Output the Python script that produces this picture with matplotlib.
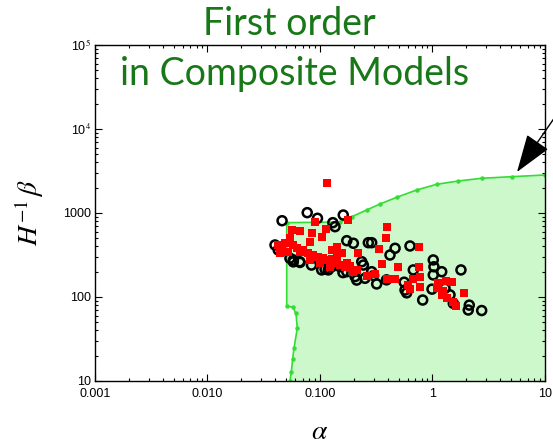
import numpy as np
import matplotlib
matplotlib.use('Agg')
from matplotlib import pyplot as plt
from matplotlib.ticker import FixedLocator, FixedFormatter, LogLocator, NullFormatter

plt.rcParams['mathtext.fontset'] = 'stix'

# allowed region (first order transition), boundary points (alpha, beta/H)
region_alpha = [0.0541, 0.0556, 0.0572, 0.0587, 0.0628, 0.0612, 0.0572, 0.0506,
                0.0506, 0.1506, 0.1915, 0.26, 0.3415, 0.481, 0.724, 1.089,
                1.696, 2.737, 5.06, 10.0]
region_beta = [10, 12.9, 18.5, 24.5, 42.4, 63.8, 75.5, 78,
               767, 780, 903, 1086, 1280, 1538, 1879, 2196,
               2404, 2589, 2705, 2834]

# model points, black circles
circ_alpha = [0.046, 0.077, 0.095, 0.161, 0.130, 0.136, 0.173, 0.198, 0.269, 0.288,
              0.465, 0.631, 0.419, 0.235, 0.243, 0.288, 0.319, 0.212, 0.570, 0.590,
              0.818, 0.675, 1.016, 1.03, 1.208, 1.016, 1.791, 1.292, 1.431, 1.531,
              2.124, 2.08, 2.737, 0.0398, 0.0425, 0.054, 0.058, 0.066, 0.084, 0.111,
              0.1185, 0.127, 0.151, 0.173, 0.205, 0.251, 0.1, 0.99, 0.0579, 0.0664,
              0.1035, 0.16, 0.3, 0.39, 0.56]
circ_beta = [809, 1009, 865, 946, 767, 687, 468, 436, 443, 443,
             380, 405, 316, 263, 240, 200, 143, 159, 121, 112,
             92, 210, 276, 229, 200, 183, 210, 127, 106, 84,
             80, 70, 69, 416, 363, 289, 276, 263, 240, 214,
             210, 229, 229, 200, 175, 167, 276, 124, 262, 258,
             210, 195, 180, 160, 150]

# model points, red squares
sq_alpha = [0.1146, 0.0903, 0.179, 0.056, 0.0664, 0.0843, 0.113, 0.1035, 0.0815, 0.392,
            0.386, 0.337, 0.764, 0.216, 0.156, 0.141, 0.127, 0.353, 0.497, 0.764,
            0.774, 0.675, 0.392, 0.465, 0.308, 0.26, 0.61, 0.774, 0.631, 1.127,
            1.318, 1.482, 1.104, 1.233, 1.208, 1.337, 1.905, 1.531, 1.618, 0.0425,
            0.0457, 0.0489, 0.0541, 0.0579, 0.0621, 0.0664, 0.0711, 0.0787, 0.0871, 0.0966,
            0.107, 0.1146, 0.127, 0.136, 0.151, 0.167, 0.185, 0.198, 0.212, 0.0441,
            0.0522, 0.0815, 0.1, 0.1227, 0.141, 0.175, 0.185, 0.0541, 0.151]
sq_beta = [2296, 775, 826, 628, 616, 582, 640, 514, 455, 687,
           500, 370, 397, 337, 337, 397, 363, 245, 226, 226,
           175, 163, 165, 163, 188, 178, 139, 130, 124, 148,
           156, 150, 127, 119, 106, 96.5, 111, 88, 78, 416,
           380, 436, 455, 416, 380, 346, 363, 331, 316, 302,
           289, 276, 281, 252, 240, 229, 220, 200, 210, 331,
           346, 276, 252, 229, 289, 256, 234, 500, 331]

fig = plt.figure(figsize=(5.53, 4.44), dpi=100)
ax = fig.add_axes([0.1718, 0.1419, 0.8137, 0.7568])
ax.set_xscale('log')
ax.set_yscale('log')

ax.fill(region_alpha + [10.0], region_beta + [10], color='#ccf8cc', lw=0, zorder=1)
ax.plot(region_alpha, region_beta, color='#33dd33', lw=1.2, marker='o', ms=2.2, zorder=2)

ax.scatter(circ_alpha, circ_beta, s=42, facecolors='none', edgecolors='black',
           linewidths=1.8, zorder=3)
ax.scatter(sq_alpha, sq_beta, s=32, marker='s', color='#ff0000', lw=0, zorder=4)

ax.set_xlim(0.001, 10)
ax.set_ylim(10, 1e5)

ax.xaxis.set_major_locator(FixedLocator([0.001, 0.01, 0.1, 1, 10]))
ax.xaxis.set_major_formatter(FixedFormatter(['0.001', '0.010', '0.100', '1', '10']))
ax.yaxis.set_major_locator(FixedLocator([10, 100, 1000, 1e4, 1e5]))
ax.yaxis.set_major_formatter(FixedFormatter(['10', '100', '1000', r'10$^{4}$', r'10$^{5}$']))
for a in (ax.xaxis, ax.yaxis):
    a.set_minor_locator(LogLocator(base=10, subs=np.arange(2, 10), numticks=20))
    a.set_minor_formatter(NullFormatter())
ax.tick_params(which='both', direction='in', top=True, right=True, width=0.8)
ax.tick_params(which='major', length=5, labelsize=9)
ax.tick_params(axis='x', which='major', pad=5)
ax.tick_params(axis='y', which='major', pad=3)
ax.tick_params(which='minor', length=2.5)
for lab in ax.get_xticklabels() + ax.get_yticklabels():
    lab.set_fontfamily('Liberation Sans')
for s in ax.spines.values():
    s.set_linewidth(1.0)

ax.set_xlabel(r'$\alpha$', fontsize=20, labelpad=12)
ax.set_ylabel(r'$H^{-1}\,\beta$', fontsize=20, labelpad=12)

ax.annotate('', xy=(5.64, 3076), xycoords='data',
            xytext=(575, 356), textcoords='figure pixels',
            arrowprops=dict(arrowstyle='-|>,head_length=1.6,head_width=0.55',
                            mutation_scale=15, color='black', lw=1, shrinkA=0, shrinkB=0),
            annotation_clip=False, zorder=6)

fig.text(0.523, 0.9212, 'First order', ha='center', va='baseline',
         fontsize=27, color='#187818', family='Lato')
fig.text(0.533, 0.8086, 'in Composite Models', ha='center', va='baseline',
         fontsize=27, color='#187818', family='Lato')

fig.savefig('out.png', dpi=100)
